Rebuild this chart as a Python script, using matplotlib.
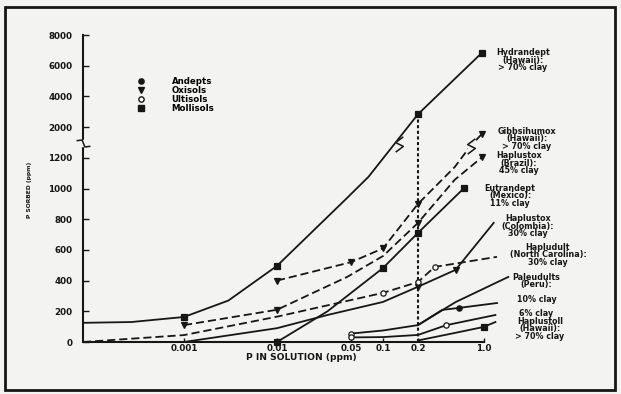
import numpy as np
import matplotlib
matplotlib.use("Agg")
import matplotlib.pyplot as plt
from matplotlib.patches import Rectangle
from matplotlib.lines import Line2D

# ---------------- data ----------------
hydrandept_x = [0.0001, 0.0003, 0.001, 0.003, 0.01, 0.044, 0.073, 0.2, 0.95]
hydrandept_y = [125, 130, 163, 270, 496, 926, 1076, 2840, 6840]

gibbsihumox_x = [0.01, 0.05, 0.1, 0.2, 0.49, 0.72, 0.95]
gibbsihumox_y = [400, 520, 610, 900, 1140, 1510, 1820]

brazil_x = [0.001, 0.01, 0.046, 0.1, 0.2, 0.49, 0.95]
brazil_y = [110, 210, 424, 560, 776, 1057, 1213]

eutrandept_x = [0.01, 0.03, 0.1, 0.2, 0.62]
eutrandept_y = [0, 200, 482, 711, 1005]

colombia_x = [0.001, 0.01, 0.03, 0.1, 0.2, 0.5, 1.25]
colombia_y = [0, 90, 176, 261, 360, 470, 776]

hapludult_x = [0.0001, 0.001, 0.01, 0.1, 0.2, 0.3, 1.35]
hapludult_y = [0, 45, 165, 320, 391, 489, 555]

peru_x = [0.05, 0.1, 0.2, 0.5, 1.75]
peru_y = [55, 75, 110, 260, 424]

peru10_x = [0.2, 0.36, 0.54, 1.35]
peru10_y = [110, 209, 222, 254]

peru6_x = [0.05, 0.1, 0.2, 0.4, 1.3]
peru6_y = [30, 32, 46, 110, 176]

haplustoll_x = [0.2, 0.5, 0.99, 1.3]
haplustoll_y = [10, 60, 98, 130]

x_ticks = [0.001, 0.01, 0.05, 0.1, 0.2, 1.0]
x_ticklabels = ["0.001", "0.01", "0.05", "0.1", "0.2", "1.0"]
y_ticks = [0, 200, 400, 600, 800, 1000, 1200, 2000, 4000, 6000, 8000]
y_ticklabels = ["0", "200", "400", "600", "800", "1000", "1200", "2000", "4000", "6000", "8000"]

legend_labels = ["Andepts", "Oxisols", "Ultisols", "Mollisols"]

curve_labels = [
    ("Hydrandept\n(Hawaii):\n> 70% clay", 523, 60),
    ("Gibbsihumox\n(Hawaii):\n> 70% clay", 527, 139),
    ("Haplustox\n(Brazil):\n45% clay", 519, 163),
    ("Eutrandept\n(Mexico):\n11% clay", 510, 196),
    ("Haplustox\n(Colombia):\n30% clay", 528, 226),
    ("Hapludult\n(North Carolina):\n30% clay", 548, 255),
    ("Paleudults\n(Peru):", 536, 281),
    ("10% clay", 537, 300),
    ("6% clay", 536, 313),
    ("Haplustoll\n(Hawaii):\n> 70% clay", 540, 329),
]

# ---------------- figure ----------------
W, H = 621, 394
bg = "#f3f3f1"
fig = plt.figure(figsize=(W / 100, H / 100), dpi=100, facecolor=bg)
ax = fig.add_axes([83 / W, 1 - 342 / H, (484 - 83) / W, (342 - 35) / H])
ax.set_facecolor(bg)

# hand-drawn, roughly logarithmic x axis of the original
_xk_log = np.array([-5, -4, -3, -2, np.log10(0.05), -1, np.log10(0.2), 0, 1], dtype=float)
_xk_pos = np.array([-17, 83, 184, 277, 351, 383, 418, 484, 584], dtype=float)


def _xf(v):
    v = np.clip(np.asarray(v, dtype=float), 1e-12, None)
    return np.interp(np.log10(v), _xk_log, _xk_pos)


def _xi(p):
    p = np.asarray(p, dtype=float)
    return 10 ** np.interp(p, _xk_pos, _xk_log)


# broken y scale: 0-1200 linear, 1200-2000 compressed, 2000-8000 linear
_yk_data = np.array([0, 1200, 2000, 8000], dtype=float)
_yk_disp = np.array([0, 1200, 1400, 2000], dtype=float)


def _yf(v):
    return np.interp(np.asarray(v, dtype=float), _yk_data, _yk_disp)


def _yi(v):
    return np.interp(np.asarray(v, dtype=float), _yk_disp, _yk_data)


ax.set_xscale("function", functions=(_xf, _xi))
ax.set_yscale("function", functions=(_yf, _yi))
ax.set_xlim(1e-4, 1.0)
ax.set_ylim(0, 8000)

ink = "#161616"
lw = 1.3
dash = (0, (4.5, 2.2))
ms = 3.8


def curve(x, y, ls, marker, mk_idx, mfc=ink):
    ax.plot(x, y, color=ink, lw=lw, linestyle=ls, marker=marker, markevery=mk_idx,
            ms=ms, mfc=mfc, mec=ink, mew=0.9, clip_on=False, zorder=3)


curve(hydrandept_x, hydrandept_y, "-", "s", [2, 4, 7, 8])
curve(gibbsihumox_x, gibbsihumox_y, dash, "v", [0, 1, 2, 3, 6])
curve(brazil_x, brazil_y, dash, "v", [0, 1, 4, 6])
curve(eutrandept_x, eutrandept_y, "-", "s", [0, 2, 3, 4])
curve(colombia_x, colombia_y, "-", "v", [4, 5])
curve(hapludult_x, hapludult_y, dash, "o", [3, 4, 5], mfc="white")
curve(peru_x, peru_y, "-", "o", [0], mfc="white")
curve(peru10_x, peru10_y, "-", "o", [2])
curve(peru6_x, peru6_y, "-", "o", [0, 3], mfc="white")
curve(haplustoll_x, haplustoll_y, "-", "s", [2])

# dotted reference line at 0.2 ppm
ax.vlines(hydrandept_x[7], 0, hydrandept_y[7], colors=ink, linestyles=(0, (1.5, 1.2)),
          lw=1.5, zorder=2)

# break symbols
zig_line = [(-0.5, -1.0), (0.5, -0.25), (-0.5, 0.25), (0.5, 1.0)]
zig_axis = [(-1.0, 0.4), (-0.2, 0.5), (0.2, -0.5), (1.0, -0.4)]
for bx, by in ((0.136, 1561), (0.72, 1510)):
    ax.plot([bx], [by], marker="s", ms=5, mfc=bg, mec=bg, ls="none", zorder=4, clip_on=False)
    ax.plot([bx], [by], marker=zig_line, ms=11, mfc="none", mec=ink, mew=1.1,
            ls="none", zorder=5, clip_on=False)
ax.plot([1e-4], [1580], marker="s", ms=5, mfc=bg, mec=bg, ls="none", zorder=5, clip_on=False)
ax.plot([1e-4], [1580], marker=zig_axis, ms=10, mfc="none", mec=ink, mew=1.1,
        ls="none", zorder=6, clip_on=False)

# axes styling
for s in ("top", "right"):
    ax.spines[s].set_visible(False)
for s in ("left", "bottom"):
    ax.spines[s].set_color(ink)
    ax.spines[s].set_linewidth(1.5)

ax.set_xticks(x_ticks)
ax.set_xticklabels(x_ticklabels)
ax.xaxis.set_minor_locator(matplotlib.ticker.NullLocator())
ax.set_yticks(y_ticks)
ax.set_yticklabels(y_ticklabels)
ax.yaxis.set_minor_locator(matplotlib.ticker.NullLocator())
ax.tick_params(axis="y", direction="in", length=4, width=1.0, colors=ink,
               labelsize=6.3, pad=7.5)
ax.tick_params(axis="x", direction="in", length=3, width=1.0, colors=ink,
               labelsize=6.3, pad=1.2)
for t in ax.get_xticklabels() + ax.get_yticklabels():
    t.set_fontweight("bold")

fig.text(301 / W, 1 - 357 / H, "P IN SOLUTION (ppm)", ha="center", va="center",
         fontsize=6.6, fontweight="bold", color=ink)
fig.text(30 / W, 1 - 190 / H, "P SORBED (ppm)", ha="center", va="center",
         rotation=90, fontsize=4.3, fontweight="bold", color=ink)

# legend
handles = [
    Line2D([], [], ls="none", marker="o", ms=3.8, mfc=ink, mec=ink),
    Line2D([], [], ls="none", marker="v", ms=3.8, mfc=ink, mec=ink),
    Line2D([], [], ls="none", marker="o", ms=3.8, mfc="white", mec=ink, mew=1.0),
    Line2D([], [], ls="none", marker="s", ms=3.8, mfc=ink, mec=ink),
]
ax.legend(handles, legend_labels, loc="upper left",
          bbox_to_anchor=(138 / W, 1 - 77 / H), bbox_transform=fig.transFigure,
          frameon=False, handlelength=0.8, handletextpad=3.1,
          labelspacing=0.0, borderpad=0, borderaxespad=0,
          prop={"weight": "bold", "size": 6.2})

# curve labels
for txt, px, py in curve_labels:
    fig.text(px / W, 1 - py / H, txt, ha="center", va="center", fontsize=5.8,
             fontweight="bold", color=ink, linespacing=0.85)

# outer frame
fig.patches.append(Rectangle((5 / W, 1 - 390 / H), (615 - 5) / W, (390 - 7) / H,
                             transform=fig.transFigure, fill=False, lw=2.0,
                             edgecolor=ink, zorder=10))

fig.savefig("out.png", dpi=100, facecolor=bg)
